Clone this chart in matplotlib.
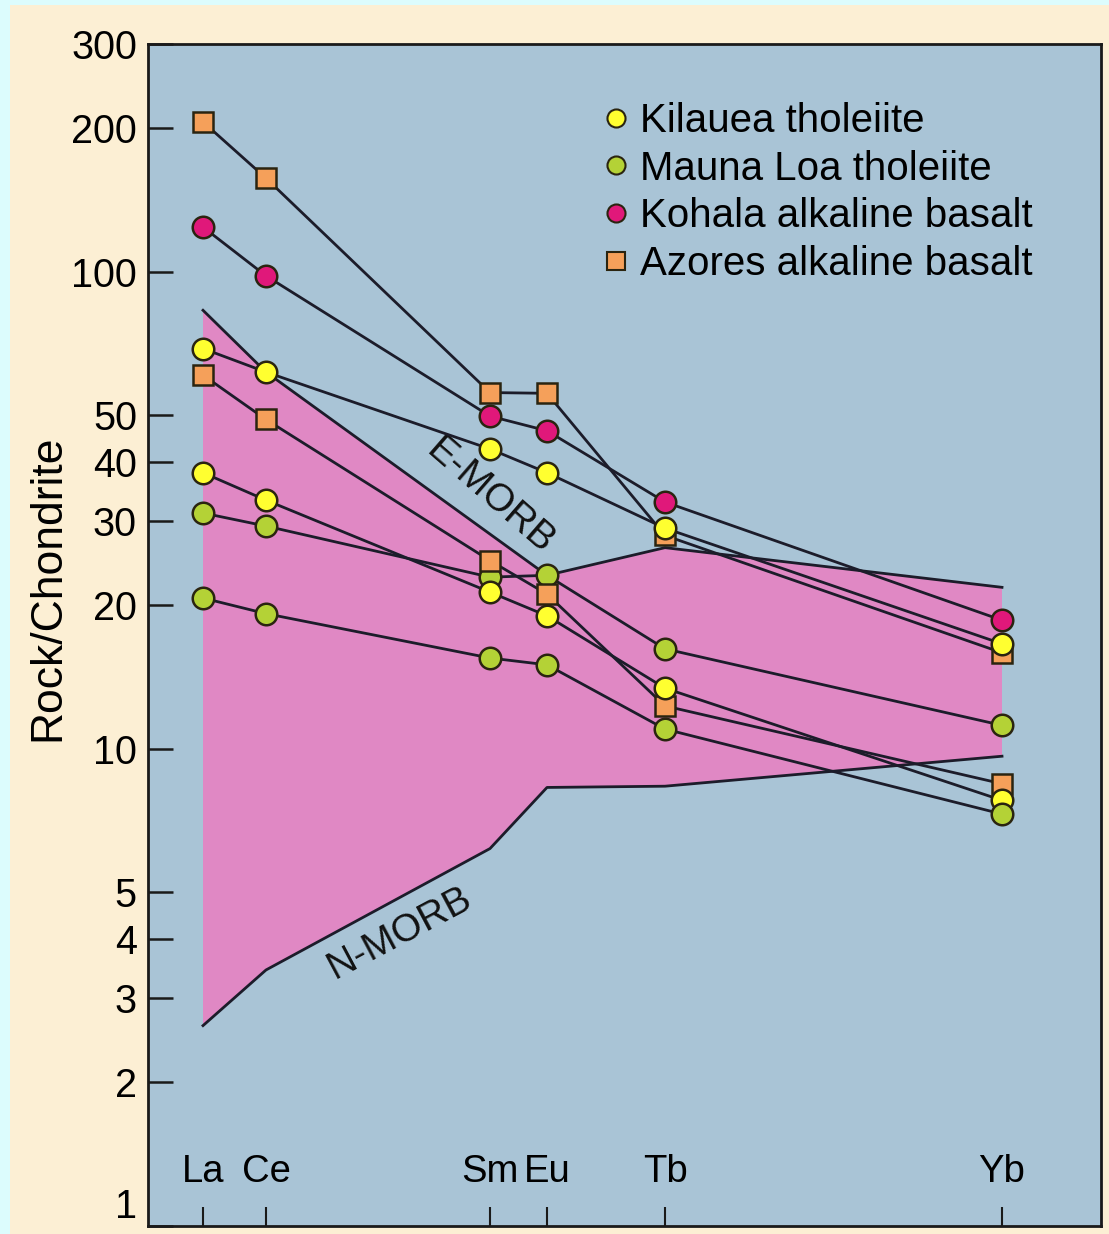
import matplotlib.pyplot as plt
from matplotlib.lines import Line2D
from matplotlib.patches import Rectangle
from matplotlib.ticker import NullLocator

plt.rcParams["font.family"] = ["Liberation Sans", "DejaVu Sans"]

# colours picked off the figure
CYAN, CREAM, PANEL, FIELD = "#dcfcfd", "#fcefd4", "#a9c4d6", "#e088c4"
INK, EDGE = "#1c1c2a", "#2a2410"
YELLOW, GREEN, MAGENTA, ORANGE = "#ffff30", "#b4d236", "#e0187a", "#f5a05a"

# REE along the x axis (axis spans 0..953)
elements = ["La", "Ce", "Sm", "Eu", "Tb", "Yb"]
x_pos = [55, 118, 342, 399, 517, 854]

# rock / chondrite
kilauea_hi = [69, 61.6, 42.5, 37.9, 29.0, 16.6]
kilauea_lo = [37.9, 33.2, 21.3, 19.0, 13.4, 7.8]
mauna_loa_hi = [31.2, 29.3, 22.9, 23.1, 16.2, 11.2]
mauna_loa_lo = [20.7, 19.2, 15.5, 15.0, 11.0, 7.3]
kohala = [124, 98, 49.8, 46.4, 32.9, 18.6]
azores_hi = [206, 157, 55.8, 55.6, 28.0, 15.9]
azores_lo = [60.7, 49, 24.8, 21.1, 12.3, 8.45]

# MORB field: upper (E-MORB) and lower (N-MORB) bounds
emorb_el = ["La", "Ce", "Eu", "Tb", "Yb"]
emorb_val = [83, 61.6, 23.1, 26.4, 21.8]
nmorb_el = ["La", "Ce", "Sm", "Eu", "Tb", "Yb"]
nmorb_val = [2.63, 3.44, 6.18, 8.3, 8.35, 9.65]

ytick_vals = [1, 2, 3, 4, 5, 10, 20, 30, 40, 50, 100, 200, 300]

xmap = dict(zip(elements, x_pos))

fig = plt.figure(figsize=(11.09, 12.34), dpi=100, facecolor=CYAN)
fig.add_artist(
    Rectangle((10 / 1109, 0), 1, 1 - 5 / 1234, transform=fig.transFigure,
              facecolor=CREAM, edgecolor="none", zorder=-5)
)
ax = fig.add_axes([148 / 1109, 8 / 1234, 953 / 1109, 1182 / 1234])
ax.set_facecolor(PANEL)
ax.set_yscale("log")
ax.set_xlim(0, 953)
ax.set_ylim(1, 300)

# MORB field
ex = [xmap[e] for e in emorb_el]
nx = [xmap[e] for e in nmorb_el]
ax.fill(ex + nx[::-1], emorb_val + nmorb_val[::-1], color=FIELD, lw=0, zorder=1)
ax.plot(ex, emorb_val, color=INK, lw=2, zorder=2)
ax.plot(nx, nmorb_val, color=INK, lw=2, zorder=2)
ax.text(342, 33.8, "E-MORB", rotation=-41, rotation_mode="anchor",
        ha="center", va="center", fontsize=28, color="#111111", zorder=2)
ax.text(252, 4.1, "N-MORB", rotation=28, rotation_mode="anchor",
        ha="center", va="center", fontsize=28, color="#111111", zorder=2)

# series, in the stacking order seen in the figure
series = [
    (azores_hi, ORANGE, "s"),
    (kohala, MAGENTA, "o"),
    (kilauea_hi, YELLOW, "o"),
    (mauna_loa_hi, GREEN, "o"),
    (azores_lo, ORANGE, "s"),
    (kilauea_lo, YELLOW, "o"),
    (mauna_loa_lo, GREEN, "o"),
]
for vals, _, _ in series:
    ax.plot(x_pos, vals, color=INK, lw=2, zorder=3)
for i, (vals, col, mk) in enumerate(series):
    ax.plot(x_pos, vals, ls="none", marker=mk, ms=15.5 if mk == "o" else 15,
            mfc=col, mec=EDGE, mew=1.8, zorder=4 + i)

# axes styling
for s in ax.spines.values():
    s.set_linewidth(2)
    s.set_color("#1a1a1a")
ax.yaxis.set_minor_locator(NullLocator())
ax.set_yticks(ytick_vals)
ax.set_yticklabels([str(v) for v in ytick_vals])
ax.tick_params(axis="y", direction="in", length=18, width=1.8, labelsize=28.5,
               pad=8, color="#1a1a1a")
ax.get_yticklabels()[0].set_va("bottom")  # the "1" sits on the bottom edge
ax.set_xticks(x_pos)
ax.set_xticklabels(elements)
ax.tick_params(axis="x", direction="in", length=14, width=1.5, labelsize=27.5,
               pad=-52, color="#1a1a1a")
ax.set_ylabel("Rock/Chondrite", fontsize=32)
ax.yaxis.set_label_coords(-0.084, 0.54)

handles = [
    Line2D([], [], ls="none", marker="o", ms=13, mfc=YELLOW, mec=EDGE, mew=1.5),
    Line2D([], [], ls="none", marker="o", ms=13, mfc=GREEN, mec=EDGE, mew=1.5),
    Line2D([], [], ls="none", marker="o", ms=13, mfc=MAGENTA, mec=EDGE, mew=1.5),
    Line2D([], [], ls="none", marker="s", ms=12.5, mfc=ORANGE, mec=EDGE, mew=1.5),
]
labels = ["Kilauea tholeiite", "Mauna Loa tholeiite",
          "Kohala alkaline basalt", "Azores alkaline basalt"]
ax.legend(handles, labels, loc="upper left", bbox_to_anchor=(0.474, 0.951),
          frameon=False, fontsize=29, handlelength=0.8, handletextpad=0.2,
          labelspacing=0.24, borderpad=0, borderaxespad=0)

fig.savefig("out.png", dpi=100, facecolor=CYAN)
